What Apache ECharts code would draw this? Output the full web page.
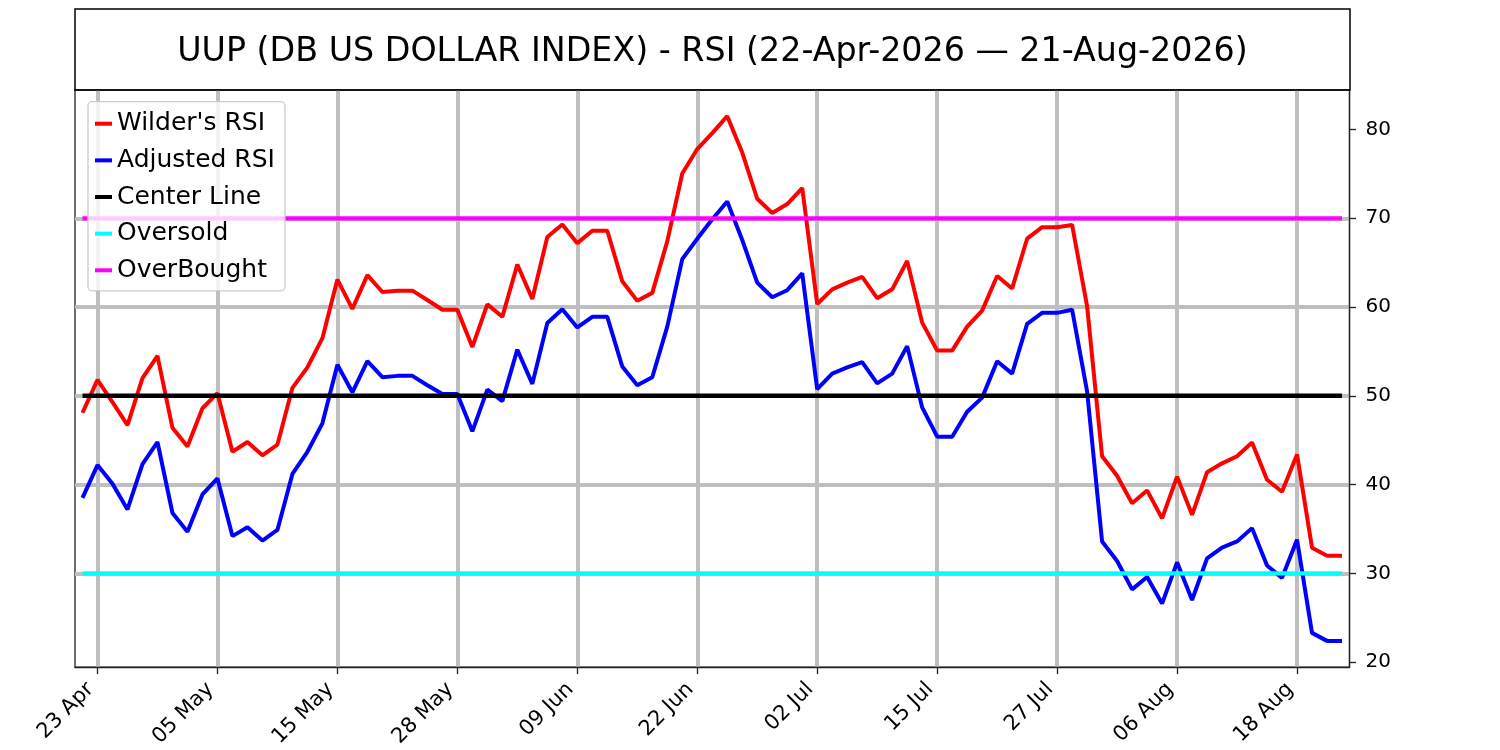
<!DOCTYPE html>
<html>
<head>
<meta charset="utf-8">
<script src="https://cdn.jsdelivr.net/npm/echarts@6/dist/echarts.min.js"></script>
<style>
  html, body { margin: 0; padding: 0; background: #ffffff; }
  #chart { width: 1500px; height: 750px; }
</style>
</head>
<body>
<div id="chart"></div>
<script>
// ---- data ----
const dates = [
  '22 Apr','23 Apr','24 Apr','27 Apr','28 Apr','29 Apr','30 Apr','01 May','04 May','05 May',
  '06 May','07 May','08 May','11 May','12 May','13 May','14 May','15 May','18 May','19 May',
  '20 May','21 May','22 May','26 May','27 May','28 May','29 May','01 Jun','02 Jun','03 Jun',
  '04 Jun','05 Jun','08 Jun','09 Jun','10 Jun','11 Jun','12 Jun','15 Jun','16 Jun','17 Jun',
  '18 Jun','22 Jun','23 Jun','24 Jun','25 Jun','26 Jun','29 Jun','30 Jun','01 Jul','02 Jul',
  '06 Jul','07 Jul','08 Jul','09 Jul','10 Jul','13 Jul','14 Jul','15 Jul','16 Jul','17 Jul',
  '20 Jul','21 Jul','22 Jul','23 Jul','24 Jul','27 Jul','28 Jul','29 Jul','30 Jul','31 Jul',
  '03 Aug','04 Aug','05 Aug','06 Aug','07 Aug','10 Aug','11 Aug','12 Aug','13 Aug','14 Aug',
  '17 Aug','18 Aug','19 Aug','20 Aug','21 Aug'
];
const xTickLabels = ['23 Apr','05 May','15 May','28 May','09 Jun','22 Jun','02 Jul','15 Jul','27 Jul','06 Aug','18 Aug'];
const yTickLabels = [20, 30, 40, 50, 60, 70, 80];

const wildersRSI = [
  48.1, 51.8, 49.3, 46.7, 52.0, 54.5, 46.4, 44.3, 48.6, 50.3,
  43.7, 44.8, 43.3, 44.5, 50.9, 53.2, 56.5, 63.1, 59.8, 63.6,
  61.7, 61.85, 61.85, 60.8, 59.7, 59.7, 55.5, 60.3, 58.9, 64.8,
  60.9, 67.9, 69.3, 67.2, 68.6, 68.6, 62.9, 60.7, 61.6, 67.4,
  75.05, 77.8, 79.6, 81.5, 77.4, 72.2, 70.6, 71.6, 73.4, 60.35,
  62.0, 62.75, 63.4, 61.0, 62.0, 65.2, 58.25, 55.1, 55.1, 57.8,
  59.6, 63.5, 62.1, 67.7, 69.0, 69.0, 69.25, 60.1, 43.2, 41.0,
  37.9, 39.35, 36.2, 40.9, 36.6, 41.4, 42.4, 43.2, 44.75, 40.55,
  39.2, 43.4, 32.9, 32.0, 32.0
];
const adjustedRSI = [
  38.5, 42.2, 40.1, 37.2, 42.3, 44.8, 36.8, 34.7, 38.9, 40.7,
  34.2, 35.2, 33.7, 34.9, 41.2, 43.7, 46.9, 53.5, 50.4, 53.9,
  52.1, 52.25, 52.25, 51.2, 50.2, 50.2, 46.0, 50.7, 49.4, 55.2,
  51.35, 58.2, 59.75, 57.7, 58.9, 58.9, 53.3, 51.2, 52.1, 57.8,
  65.4, 67.7, 69.9, 71.9, 67.55, 62.75, 61.1, 61.9, 63.8, 50.75,
  52.5, 53.2, 53.8, 51.4, 52.5, 55.6, 48.7, 45.4, 45.4, 48.2,
  49.8, 53.9, 52.5, 58.1, 59.35, 59.35, 59.7, 50.5, 33.6, 31.4,
  28.2, 29.6, 26.6, 31.25, 27.0, 31.7, 32.9, 33.6, 35.1, 30.9,
  29.5, 33.8, 23.3, 22.4, 22.4
];
const centerLevel = 50;
const oversoldLevel = 30;
const overboughtLevel = 70;

const titleText = 'UUP (DB US DOLLAR INDEX) - RSI (22-Apr-2026 \u2014 21-Aug-2026)';

// ---- chart ----
const FONT = 'DejaVu Sans';
const yMin = 19.45, yMax = 84.45;
const first = dates[0], last = dates[dates.length - 1];
const levelLine = (v) => [[first, v], [last, v]];
const showTick = (idx, val) => xTickLabels.indexOf(val) >= 0;
const axisColor = '#222222';
const gridColor = '#bfbfbf';

const chart = echarts.init(document.getElementById('chart'), null, { renderer: 'canvas' });

chart.setOption({
  animation: false,
  backgroundColor: '#ffffff',
  textStyle: { fontFamily: FONT },
  title: {
    text: titleText,
    left: 712.5,
    top: 52.5,
    textAlign: 'center',
    textVerticalAlign: 'middle',
    padding: 0,
    textStyle: { fontFamily: FONT, fontSize: 33.3, fontWeight: 'normal', color: '#000000' }
  },
  graphic: [{
    type: 'rect',
    shape: { x: 75, y: 9, width: 1275, height: 81 },
    style: { fill: 'none', stroke: '#000000', lineWidth: 1.5 },
    z: 100, silent: true
  }],
  legend: {
    orient: 'vertical',
    left: 88,
    top: 101.7,
    padding: [9.5, 10, 8, 7],
    itemGap: 11.65,
    itemWidth: 17,
    itemHeight: 4,
    icon: 'rect',
    backgroundColor: 'rgba(255,255,255,0.8)',
    borderColor: '#cccccc',
    borderWidth: 1.3,
    borderRadius: 4,
    textStyle: { fontFamily: FONT, fontSize: 25, lineHeight: 25, color: '#000000' },
    data: ["Wilder's RSI", 'Adjusted RSI', 'Center Line', 'Oversold', 'OverBought']
  },
  grid: {
    left: 75, right: 150.5, top: 90, bottom: 82.5,
    show: true, borderColor: axisColor, borderWidth: 1.3, backgroundColor: 'transparent',
    containLabel: false
  },
  xAxis: {
    type: 'category',
    data: dates,
    boundaryGap: true,
    axisLine: { show: true, lineStyle: { color: axisColor, width: 1.3 } },
    axisTick: { show: true, alignWithLabel: true, interval: showTick, length: 7, lineStyle: { color: axisColor, width: 1.3 } },
    axisLabel: { interval: showTick, rotate: 45, fontFamily: FONT, fontSize: 21, color: '#000000', margin: 12, padding: [0, 10, 0, 0] },
    splitLine: { show: true, interval: showTick, alignWithLabel: true, lineStyle: { color: gridColor, width: 4 } }
  },
  yAxis: {
    type: 'value',
    position: 'right',
    min: yMin,
    max: yMax,
    splitNumber: 7,
    minInterval: 10,
    maxInterval: 10,
    axisLine: { show: true, lineStyle: { color: axisColor, width: 1.3 } },
    axisTick: { show: true, length: 6.5, customValues: yTickLabels, lineStyle: { color: axisColor, width: 1.3 } },
    axisLabel: { customValues: yTickLabels, fontFamily: FONT, fontSize: 20, color: '#000000', margin: 16 },
    splitLine: { show: true, showMinLine: false, showMaxLine: false, lineStyle: { color: gridColor, width: 3.8 } }
  },
  series: [
    { name: "Wilder's RSI", type: 'line', data: wildersRSI, color: '#ff0000', symbol: 'none',
      lineStyle: { width: 4, color: '#ff0000' }, emphasis: { disabled: true } },
    { name: 'Adjusted RSI', type: 'line', data: adjustedRSI, color: '#0000ff', symbol: 'none',
      lineStyle: { width: 4, color: '#0000ff' }, emphasis: { disabled: true } },
    { name: 'Center Line', type: 'line', data: levelLine(centerLevel), color: '#000000', symbol: 'none',
      lineStyle: { width: 4.5, color: '#000000' }, emphasis: { disabled: true } },
    { name: 'Oversold', type: 'line', data: levelLine(oversoldLevel), color: '#00ffff', symbol: 'none',
      lineStyle: { width: 4.3, color: '#00ffff' }, emphasis: { disabled: true } },
    { name: 'OverBought', type: 'line', data: levelLine(overboughtLevel), color: '#ff00ff', symbol: 'none',
      lineStyle: { width: 4.3, color: '#ff00ff' }, emphasis: { disabled: true } }
  ]
});
</script>
</body>
</html>
